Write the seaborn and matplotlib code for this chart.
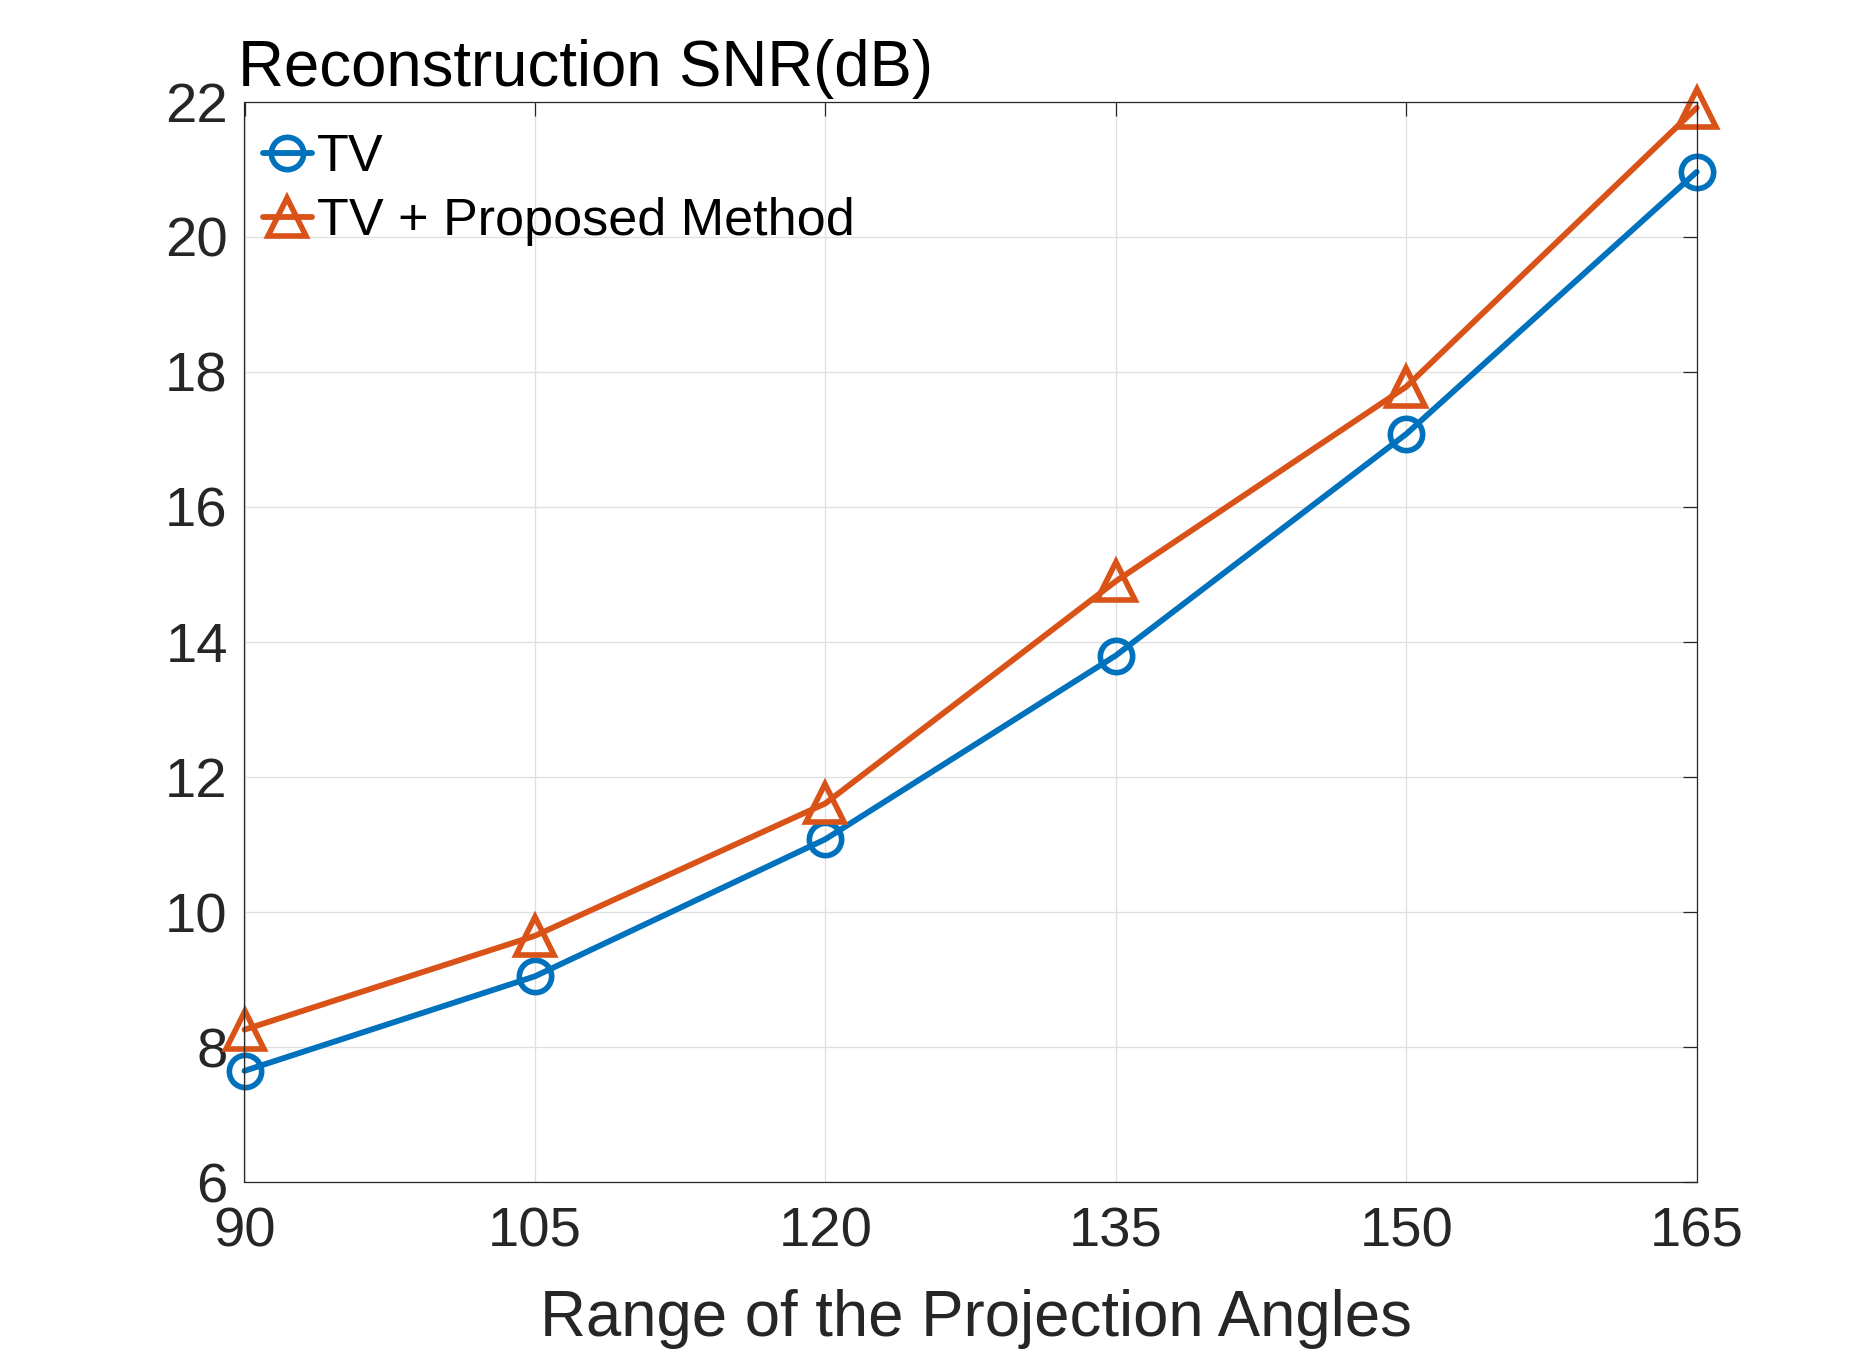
import matplotlib
matplotlib.use("Agg")
import matplotlib.pyplot as plt
import seaborn as sns
import pandas as pd

# values
angles = [90, 105, 120, 135, 150, 165]
snr_tv = [7.65, 9.05, 11.08, 13.80, 17.08, 20.96]
snr_proposed = [8.26, 9.65, 11.61, 14.90, 17.78, 21.91]
y_ticks = [6, 8, 10, 12, 14, 16, 18, 20, 22]

blue = "#0072BD"
orange = "#D95319"
dark = "#262626"

sns.set_theme(style="white")
plt.rcParams["font.family"] = ["Liberation Sans", "DejaVu Sans"]

fig = plt.figure(figsize=(12.5, 1351 / 150), dpi=150)
ax = fig.add_axes([244.5 / 1875, 1 - 1182.3 / 1351, 1452.2 / 1875, 1080.6 / 1351])

df = pd.DataFrame({"angle": angles, "tv": snr_tv, "prop": snr_proposed})

sns.lineplot(data=df, x="angle", y="tv", ax=ax, color=blue, linewidth=2.8,
             marker="o", markersize=15.5, markerfacecolor="none",
             markeredgecolor=blue, markeredgewidth=2.7, label="TV", clip_on=False)
sns.lineplot(data=df, x="angle", y="prop", ax=ax, color=orange, linewidth=2.8,
             marker="^", markersize=18, markerfacecolor="none",
             markeredgecolor=orange, markeredgewidth=2.7,
             label="TV + Proposed Method", clip_on=False)

ax.set_xlim(90, 165)
ax.set_ylim(6, 22)
ax.set_xticks(angles)
ax.set_yticks(y_ticks)
ax.grid(True, color="#dfdfdf", linewidth=0.6)
ax.set_axisbelow(True)
for s in ax.spines.values():
    s.set_visible(True)
    s.set_color(dark)
    s.set_linewidth(0.6)
ax.tick_params(direction="in", length=6.5, width=0.6, color=dark,
               top=True, right=True, labelsize=27, labelcolor=dark)
ax.tick_params(axis="x", pad=11.5)
ax.tick_params(axis="y", pad=8)

ax.set_ylabel("")
ax.set_xlabel("Range of the Projection Angles", fontsize=30.5, color=dark)
ax.xaxis.set_label_coords(0.5037, -0.1422)
ax.xaxis.label.set_verticalalignment("baseline")

fig.text(237.8 / 1875, 1 - 86 / 1351, "Reconstruction SNR(dB)", fontsize=30.5,
         color="black", ha="left", va="baseline")

leg = ax.legend(loc="upper left", bbox_to_anchor=(262.5 / 1875, 1 - 133 / 1351),
                bbox_transform=fig.transFigure, frameon=False, fontsize=25,
                handlelength=0.95, handletextpad=0.1, labelspacing=0.285,
                borderpad=0, borderaxespad=0)
for t in leg.get_texts():
    t.set_color("black")

fig.savefig("out.png", dpi=150)
